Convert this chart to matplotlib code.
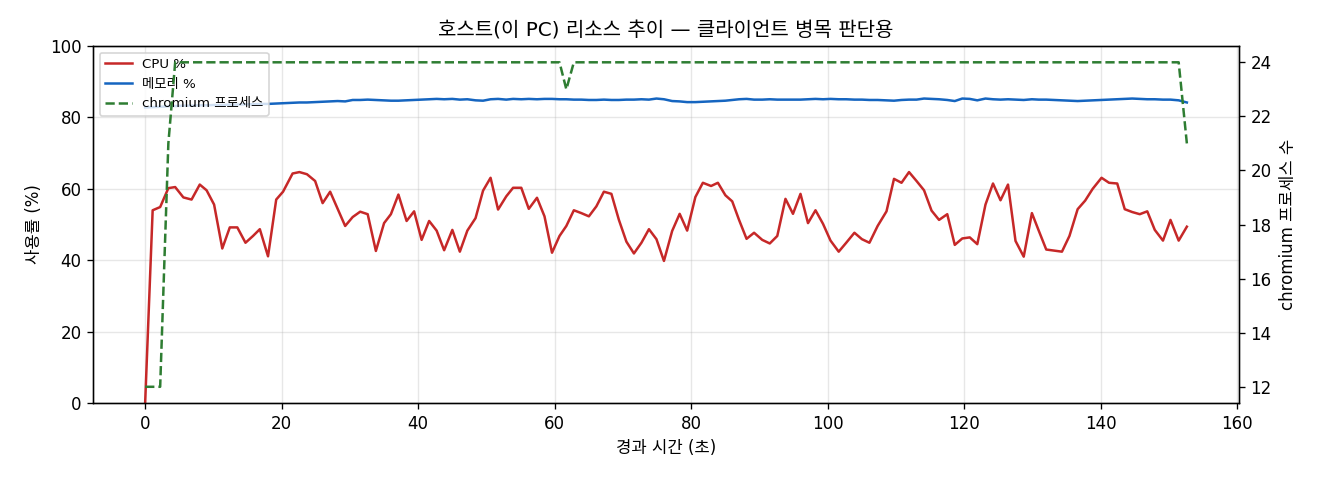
import matplotlib
matplotlib.use("Agg")
import matplotlib.pyplot as plt

plt.rcParams['font.family'] = ['DejaVu Sans', 'Noto Sans CJK KR']

# 경과 시간 (초)
elapsed = [
    0.0, 1.1, 2.2, 3.4, 4.4, 5.6, 6.8, 8.0, 9.0, 10.1,
    11.3, 12.4, 13.5, 14.7, 15.8, 16.8, 18.0, 19.2, 20.2, 21.6,
    22.6, 23.7, 24.9, 26.0, 27.1, 28.2, 29.3, 30.4, 31.5, 32.6,
    33.8, 35.0, 36.0, 37.1, 38.3, 39.4, 40.5, 41.6, 42.7, 43.8,
    45.0, 46.1, 47.2, 48.4, 49.5, 50.6, 51.7, 52.9, 53.9, 55.1,
    56.2, 57.4, 58.5, 59.6, 60.7, 61.7, 62.8, 63.9, 65.0, 66.1,
    67.2, 68.3, 69.4, 70.5, 71.6, 72.7, 73.8, 74.9, 76.0, 77.2,
    78.3, 79.4, 80.6, 81.7, 82.9, 83.9, 85.0, 86.0, 87.0, 88.1,
    89.2, 90.4, 91.5, 92.6, 93.8, 94.9, 96.0, 97.1, 98.2, 99.3,
    100.4, 101.6, 102.7, 103.9, 105.0, 106.1, 107.3, 108.6, 109.7, 110.8,
    111.9, 113.0, 114.1, 115.2, 116.3, 117.5, 118.6, 119.7, 120.8, 121.9,
    123.1, 124.2, 125.3, 126.4, 127.5, 128.7, 129.9, 130.9, 132.0, 133.2,
    134.3, 135.4, 136.6, 137.7, 138.8, 140.1, 141.2, 142.4, 143.5, 144.6,
    145.7, 146.8, 147.9, 149.1, 150.2, 151.4, 152.6,
]

cpu = [
    0.0, 54.0, 54.9, 60.2, 60.5, 57.6, 57.0, 61.2, 59.6, 55.6,
    43.3, 49.2, 49.2, 44.9, 46.8, 48.7, 41.1, 57.0, 59.2, 64.3,
    64.7, 64.1, 62.2, 56.0, 59.2, 54.4, 49.6, 52.1, 53.6, 52.9,
    42.6, 50.4, 52.9, 58.4, 51.0, 53.7, 45.7, 51.0, 48.3, 42.8,
    48.5, 42.4, 48.3, 51.8, 59.5, 63.1, 54.2, 57.9, 60.3, 60.3,
    54.4, 57.5, 52.3, 42.1, 46.8, 49.6, 54.0, 53.2, 52.3, 55.1,
    59.2, 58.6, 51.3, 45.2, 41.9, 44.9, 48.7, 45.9, 39.8, 48.2,
    53.0, 48.3, 57.7, 61.7, 60.8, 61.7, 58.2, 56.5, 51.3, 46.0,
    47.7, 45.7, 44.7, 46.8, 57.2, 53.0, 58.6, 50.4, 54.0, 50.2,
    45.5, 42.4, 44.9, 47.7, 45.9, 44.9, 49.6, 53.7, 62.8, 61.7,
    64.7, 62.2, 59.6, 53.9, 51.3, 52.9, 44.3, 46.1, 46.4, 44.5,
    55.6, 61.5, 56.8, 61.2, 45.4, 41.0, 53.2, 48.3, 43.0, 42.7,
    42.4, 46.8, 54.3, 56.7, 60.0, 63.1, 61.7, 61.5, 54.3, 53.5,
    52.9, 53.7, 48.5, 45.5, 51.3, 45.5, 49.4,
]

memory = [
    82.8, 82.9, 83.0, 83.1, 83.2, 83.3, 83.3, 83.4, 83.4, 83.5,
    83.5, 83.6, 83.6, 83.7, 83.7, 83.8, 83.8, 83.9, 84.0, 84.1,
    84.2, 84.2, 84.3, 84.4, 84.5, 84.6, 84.5, 84.9, 84.9, 85.0,
    84.9, 84.8, 84.7, 84.7, 84.8, 84.9, 85.0, 85.1, 85.2, 85.1,
    85.2, 85.0, 85.1, 84.8, 84.7, 85.1, 85.2, 85.0, 85.2, 85.1,
    85.2, 85.1, 85.2, 85.2, 85.1, 85.1, 85.0, 85.0, 84.9, 84.9,
    85.0, 84.9, 84.9, 85.0, 85.0, 85.1, 85.0, 85.3, 85.1, 84.6,
    84.5, 84.3, 84.3, 84.4, 84.5, 84.6, 84.7, 84.9, 85.1, 85.2,
    85.0, 85.0, 85.1, 85.0, 85.0, 85.0, 85.0, 85.1, 85.2, 85.1,
    85.2, 85.1, 85.1, 85.0, 85.0, 84.9, 84.9, 84.8, 84.7, 84.9,
    85.0, 85.0, 85.3, 85.2, 85.1, 84.9, 84.6, 85.3, 85.2, 84.8,
    85.3, 85.1, 85.0, 85.1, 85.0, 84.9, 85.1, 85.0, 85.0, 84.9,
    84.8, 84.7, 84.6, 84.7, 84.8, 84.9, 85.0, 85.1, 85.2, 85.3,
    85.2, 85.1, 85.1, 85.0, 85.0, 84.8, 84.2,
]

# chromium 프로세스 수 (구간별로 읽은 값)
chromium = [12, 12, 12, 21] + [24] * 51 + [23] + [24] * 80 + [21]

fig, ax = plt.subplots(figsize=(11, 4), dpi=120)
fig.subplots_adjust(left=0.0705, right=0.9386, bottom=0.1604, top=0.904)

l1, = ax.plot(elapsed, cpu, color="#c62828", lw=1.5, label="CPU %")
l2, = ax.plot(elapsed, memory, color="#1565c0", lw=1.5, label="메모리 %")
ax.set_ylim(0, 100)
ax.set_xlabel("경과 시간 (초)")
ax.set_ylabel("사용률 (%)")
ax.grid(True, alpha=0.3)
ax.set_title("호스트(이 PC) 리소스 추이 — 클라이언트 병목 판단용")

ax2 = ax.twinx()
l3, = ax2.plot(elapsed, chromium, color="#2e7d32", lw=1.5, ls="--",
               label="chromium 프로세스")
ax2.set_ylabel("chromium 프로세스 수")

ax.legend(handles=[l1, l2, l3], loc="upper left", fontsize=8)

fig.savefig("out.png")
